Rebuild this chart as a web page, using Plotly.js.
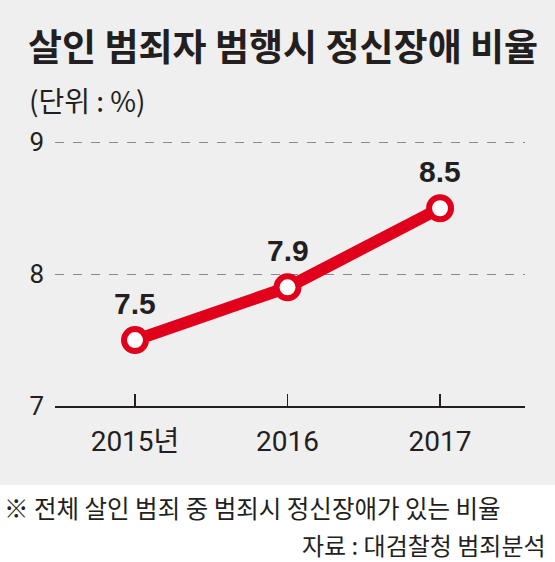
<!DOCTYPE html>
<html>
<head>
<meta charset="utf-8">
<script src="https://cdn.plot.ly/plotly-3.0.1.min.js"></script>
<style>
  html, body { margin: 0; padding: 0; background: #efefef; }
  #chart { width: 555px; height: 562px; }
</style>
</head>
<body>
<div id="chart"></div>
<script>
// ---- data ----
const years = ['2015년', '2016', '2017'];
const ratios = [7.5, 7.9, 8.5];
const yTicks = [7, 8, 9];

const titleText = '살인 범죄자 범행시 정신장애 비율';
const unitText = '(단위 : %)';
const noteText = '※ 전체 살인 범죄 중 범죄시 정신장애가 있는 비율';
const sourceText = '자료 : 대검찰청 범죄분석';

const RED = '#e1001b';
const INK = '#231f20';
const KR = '"Noto Sans CJK KR", "Noto Sans", sans-serif';
const NUM = '"Liberation Sans Narrow", "Roboto", "Noto Sans CJK KR", sans-serif';

const trace = {
  type: 'scatter',
  mode: 'lines+markers',
  x: years,
  y: ratios,
  line: { color: RED, width: 12 },
  marker: { size: 22, color: '#ffffff', line: { color: RED, width: 6 } },
  hoverinfo: 'skip',
  cliponaxis: false
};

const valueAnnotations = years.map((yr, i) => ({
  x: i, y: ratios[i], xref: 'x', yref: 'y',
  text: ratios[i].toFixed(1),
  showarrow: false,
  xanchor: 'center', yanchor: 'bottom',
  yshift: 18,
  font: { family: '"Liberation Sans", Arial, sans-serif', size: 30, color: INK, weight: 700 }
}));

const layout = {
  width: 555, height: 562,
  margin: { l: 55, r: 30, t: 116, b: 156 },
  paper_bgcolor: '#efefef',
  plot_bgcolor: 'rgba(0,0,0,0)',
  showlegend: false,
  title: {
    text: titleText,
    x: 28 / 555, xanchor: 'left', xref: 'container',
    y: 1 - 48 / 562, yanchor: 'middle', yref: 'container',
    font: { family: KR, size: 37, color: INK, weight: 700 }
  },
  xaxis: {
    type: 'category',
    categoryorder: 'array', categoryarray: years,
    range: [-0.5246, 2.557],
    showgrid: false, zeroline: false,
    showline: true, linecolor: INK, linewidth: 2,
    ticks: 'inside', ticklen: 12, tickwidth: 1.5, tickcolor: INK,
    tickfont: { family: NUM, size: 28, color: INK },
    ticklabelstandoff: 9,
    fixedrange: true
  },
  yaxis: {
    range: [7, 9.2],
    tickvals: yTicks,
    ticktext: yTicks.map(String),
    showgrid: true, gridcolor: '#8a8a8a', gridwidth: 1, griddash: 'dash',
    zeroline: false, showline: false, ticks: '',
    tickfont: { family: NUM, size: 26, color: INK },
    ticklabelstandoff: 10,
    fixedrange: true
  },
  shapes: [{
    type: 'rect', xref: 'paper', yref: 'paper', layer: 'below',
    x0: -0.3, x1: 1.3, y0: (406 - 485) / 290, y1: (406 - 620) / 290,
    fillcolor: '#ffffff', line: { width: 0 }
  }],
  annotations: [
    {
      text: unitText, xref: 'paper', yref: 'paper',
      x: (27 - 55) / 470, y: (406 - 100) / 290,
      xanchor: 'left', yanchor: 'middle', showarrow: false,
      font: { family: KR, size: 28, color: INK }
    },
    {
      text: noteText, xref: 'paper', yref: 'paper',
      x: (2 - 55) / 470, y: (406 - 507) / 290,
      xanchor: 'left', yanchor: 'middle', showarrow: false,
      font: { family: KR, size: 24.5, color: INK }
    },
    {
      text: sourceText, xref: 'paper', yref: 'paper',
      x: (548 - 55) / 470, y: (406 - 544) / 290,
      xanchor: 'right', yanchor: 'middle', showarrow: false,
      font: { family: KR, size: 24, color: INK }
    }
  ].concat(valueAnnotations)
};

Plotly.newPlot('chart', [trace], layout, { displayModeBar: false, staticPlot: true });
</script>
</body>
</html>
